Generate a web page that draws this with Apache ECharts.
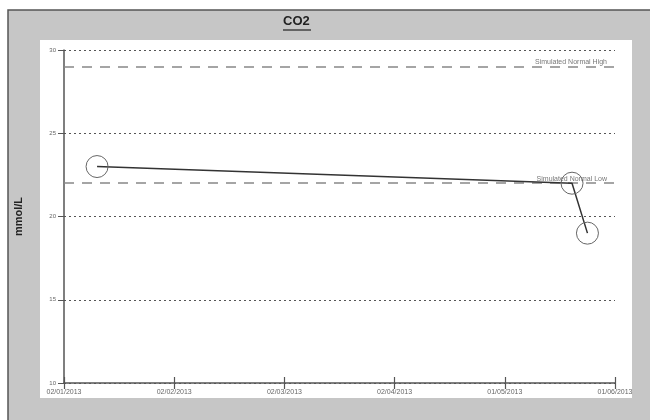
<!DOCTYPE html>
<html><head><meta charset="utf-8">
<script src="https://cdn.jsdelivr.net/npm/echarts@6/dist/echarts.min.js"></script>
<style>html,body{margin:0;padding:0;background:#fff}#c{width:650px;height:420px}</style>
</head><body><div id="c"></div>
<script>
const tickLabels = ["02/01/2013","02/02/2013","02/03/2013","02/04/2013","01/05/2013","01/06/2013"];
const pointPos = [0.30, 4.61, 4.75];   // position along the date axis (months from first tick)
const co2Values = [23, 22, 19];
const normalHigh = 29;
const normalLow = 22;
const yTicks = [10, 15, 20, 25, 30];

const chart = echarts.init(document.getElementById('c'), null, {renderer: 'canvas'});
const font = 'Liberation Sans, Arial, sans-serif';
chart.setOption({
  animation: false,
  backgroundColor: '#fff',
  graphic: [
    {type: 'rect', shape: {x: 8, y: 10, width: 650, height: 420}, style: {fill: '#c6c6c6', stroke: '#555', lineWidth: 1.5}, z: -10},
    {type: 'rect', shape: {x: 40, y: 40, width: 592, height: 358}, style: {fill: '#fff'}, z: -9},
    {type: 'text', left: 283, top: 15, style: {text: 'CO2', font: 'bold 13px ' + font, fill: '#222'}},
    {type: 'line', shape: {x1: 283, y1: 30, x2: 311, y2: 30}, style: {stroke: '#222', lineWidth: 1.2}}
  ],
  grid: {left: 64, right: 35, top: 50, bottom: 37},
  xAxis: [{
    type: 'value', min: 0, max: 5, interval: 1,
    axisLine: {show: true, lineStyle: {color: '#555', width: 1.5}},
    axisTick: {show: true, length: 6, lineStyle: {color: '#555', width: 1.2}},
    axisLabel: {fontSize: 7, color: '#666', fontFamily: font, margin: 6,
      formatter: v => tickLabels[Math.round(v)] || ''},
    splitLine: {show: false}
  }, {
    type: 'value', min: 0, max: 5, interval: 1, position: 'bottom',
    axisLine: {show: false},
    axisTick: {show: true, inside: true, length: 6, lineStyle: {color: '#555', width: 1.2}},
    axisLabel: {show: false}, splitLine: {show: false}
  }],
  yAxis: {
    type: 'value', min: 10, max: 30, interval: 5,
    name: 'mmol/L', nameLocation: 'middle', nameGap: 40, nameRotate: 90,
    nameTextStyle: {fontSize: 11, fontWeight: 'bold', color: '#222', fontFamily: font},
    axisLine: {show: true, lineStyle: {color: '#555', width: 1.5}},
    axisTick: {show: true, length: 6, lineStyle: {color: '#555'}},
    axisLabel: {fontSize: 6, color: '#666', fontFamily: font, margin: 8},
    splitLine: {show: true, lineStyle: {type: [2, 3], color: '#555', width: 1}}
  },
  series: [{
    type: 'line',
    data: pointPos.map((x, i) => [x, co2Values[i]]),
    lineStyle: {color: '#333', width: 1.5},
    symbol: 'circle', symbolSize: 22,
    itemStyle: {color: 'rgba(255,255,255,0)', borderColor: '#666', borderWidth: 1},
    z: 5,
    markLine: {
      silent: true, symbol: 'none',
      lineStyle: {color: '#888', type: [10, 8], width: 1.5},
      label: {position: 'insideEndTop', fontSize: 7, color: '#777', fontFamily: font, distance: [8, 1]},
      data: [
        {yAxis: normalHigh, label: {formatter: 'Simulated Normal High'}},
        {yAxis: normalLow, label: {formatter: 'Simulated Normal Low'}}
      ]
    }
  }]
});
</script></body></html>
